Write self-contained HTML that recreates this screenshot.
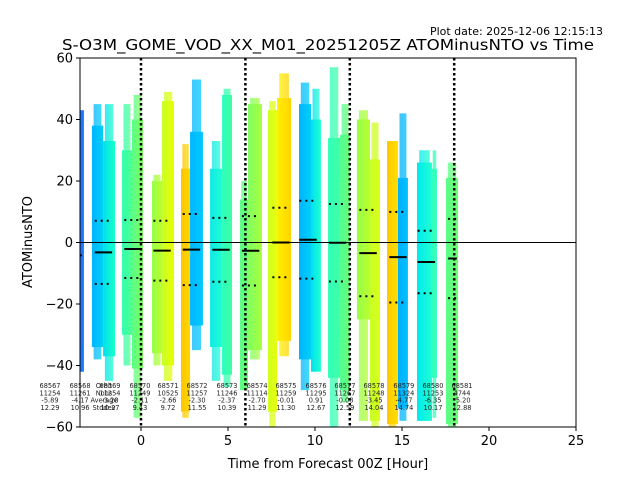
<!DOCTYPE html>
<html><head><meta charset="utf-8"><style>
body{margin:0;background:#fff;}
svg{display:block;font-family:"DejaVu Sans","Liberation Sans",sans-serif;}
</style></head><body>
<svg id="c" width="640" height="480" viewBox="0 0 640 480">
<text x="603" y="35" font-size="11" text-anchor="end">Plot date: 2025-12-06 12:15:13</text>
<text x="328" y="50" font-size="15.5" text-anchor="middle" textLength="532" lengthAdjust="spacingAndGlyphs">S-O3M_GOME_VOD_XX_M01_20251205Z ATOMinusNTO vs Time</text>
<defs><clipPath id="clip"><rect x="80" y="58" width="496" height="369"/></clipPath></defs>
<g id="plot" clip-path="url(#clip)"></g>
<g id="ann"></g>
<rect x="80" y="58" width="496" height="369" fill="none" stroke="#000" stroke-width="1"/>
<g id="axes"></g>
<text x="328" y="468" font-size="13" text-anchor="middle">Time from Forecast 00Z [Hour]</text>
<text x="32" y="242" font-size="13" text-anchor="middle" transform="rotate(-90 32 242)">ATOMinusNTO</text>
</svg>
<script>
const strips=[[-3.51,-3.28,43,-42,'#1a78ff','#1a78ff'],[-2.82,-2.18,38,-34,'#00b4ff','#00d0f8'],[-2.18,-1.49,33,-37,'#00e0ee','#18ffc8'],[-1.09,-0.52,30,-30,'#30ffb0','#50ff90'],[-0.52,0.11,40,-41,'#58ff88','#80ff60'],[0.63,1.21,20,-36,'#98ff48','#b8ff30'],[1.21,1.90,46,-40,'#c8ff28','#e8ff00'],[2.30,2.82,24,-55,'#ffc400','#ffd800'],[2.82,3.56,36,-27,'#00b8ff','#00c8ff'],[3.97,4.66,24,-34,'#10e8e8','#20ffd0'],[4.66,5.23,48,-43,'#28ffc0','#40ffa0'],[5.69,6.15,14,-48,'#58ff88','#70ff70'],[6.15,6.95,45,-35,'#80ff60','#a8ff40'],[7.30,7.82,43,-55,'#d0ff20','#e8ff10'],[7.82,8.62,47,-32,'#fff000','#ffd400'],[9.08,9.77,45,-38,'#00b4ff','#00d0f8'],[9.77,10.34,40,-42,'#00e0f0','#20ffd0'],[10.75,11.44,34,-44,'#30ffb8','#40ffa8'],[11.44,12.01,35,-48,'#50ff90','#68ff78'],[12.41,13.16,40,-25,'#98ff48','#b8ff30'],[13.16,13.74,27,-58,'#c8ff28','#d8ff18'],[14.14,14.77,33,-59,'#ffc800','#ffe000'],[14.77,15.34,21,-54,'#00b0ff','#00c0ff'],[15.86,16.72,26,-58,'#00e8f0','#20ffd0'],[16.72,17.01,24,-44,'#30ffc0','#38ffb8'],[17.53,18.22,21,-59,'#58ff88','#70ff70']];
const tailTop=[43,45,45,45,48,22,49,32,53,33,50,20,47,46,55,52,50,57,45,43,39,33,42,30,30,26];
const tailBottom=[-42,-38,-45,-40,-57,-40,-45,-57,-35,-45,-47,-48,-38,-60,-37,-48,-42,-60,-52,-58,-60,-60,-58,-58,-57,-60];
const meanHours=[-3.9,-2.16,-0.46,1.21,2.9,4.6,6.3,8.05,9.6,11.3,13.05,14.77,16.4,17.9];
const meanHalfWidth=[0.5,0.5,0.5,0.5,0.5,0.5,0.5,0.5,0.5,0.5,0.5,0.5,0.5,0.25];
const orbits=['68568','68569','68570','68571','68572','68573','68574','68575','68576','68577','68578','68579','68580','68581'];
const nobs=['11261','11254','11249','10525','11257','11246','11114','11259','11295','11267','11248','11324','11253','4744'];
const means=[-4.17,-3.20,-2.11,-2.66,-2.30,-2.37,-2.70,-0.01,0.91,-0.08,-3.45,-4.77,-6.35,-5.20];
const stds=[10.96,10.27,9.43,9.72,11.55,10.39,11.29,11.30,12.67,12.59,14.04,14.74,10.17,12.88];
const labelOrbits=['68567','68568','68569','68570','68571','68572','68573','68574','68575','68576','68577','68578','68579','68580','68581'];
const labelNobs=['11254','11261','11254','11249','10525','11257','11246','11114','11259','11295','11267','11248','11324','11253','4744'];
const labelMeans=['-5.89','-4.17','-3.20','-2.11','-2.66','-2.30','-2.37','-2.70','-0.01','0.91','-0.08','-3.45','-4.77','-6.35','-5.20'];
const labelStds=['12.29','10.96','10.27','9.43','9.72','11.55','10.39','11.29','11.30','12.67','12.59','14.04','14.74','10.17','12.88'];
const labelHours=[-5.23,-3.5,-1.78,-0.06,1.55,3.22,4.94,6.67,8.33,10.06,11.72,13.39,15.11,16.78,18.45];
const xTicks=[0,5,10,15,20,25];
const yTicks=[-60,-40,-20,0,20,40,60];
const vLines=[0,6,12,18];
const X=h=>141+h*17.4, Y=v=>242.5-v*3.075;
const NS='http://www.w3.org/2000/svg';
function mk(t,a,p){const e=document.createElementNS(NS,t);for(const k in a)e.setAttribute(k,a[k]);p.appendChild(e);return e;}
const svg=document.getElementById('c'),plot=document.getElementById('plot'),ann=document.getElementById('ann'),axes=document.getElementById('axes');
const defs=svg.querySelector('defs');
strips.forEach((s,i)=>{
 const g=mk('linearGradient',{id:'g'+i,x1:0,x2:1,y1:0,y2:0},defs);
 mk('stop',{offset:0,'stop-color':s[4]},g);mk('stop',{offset:1,'stop-color':s[5]},g);
 const x0=X(s[0]),w=X(s[1])-X(s[0]);
 const tt=mk('rect',{x:x0+w*0.15,y:Y(tailTop[i]),width:w*0.7,height:Y(tailBottom[i])-Y(tailTop[i]),fill:'url(#g'+i+')',opacity:0.75},plot);
 
 
 const r=mk('rect',{x:x0,y:Y(s[2]),width:w,height:Y(s[3])-Y(s[2]),fill:'url(#g'+i+')'},plot);
 
 
});
vLines.forEach(h=>{const l=mk('line',{x1:X(h),x2:X(h),y1:58,y2:427,stroke:'#000','stroke-width':2.5,'stroke-dasharray':'2.5,2.5'},plot);
 
 });
const z=mk('line',{x1:80,x2:576,y1:Y(0),y2:Y(0),stroke:'#000','stroke-width':1},plot);


meanHours.forEach((h,i)=>{
 const w=meanHalfWidth[i];
 const m=mk('line',{x1:X(h-w),x2:X(h+w),y1:Y(means[i]),y2:Y(means[i]),stroke:'#000','stroke-width':2},plot);
 
 
 [1,-1].forEach(sg=>{const d=mk('line',{x1:X(h-w),x2:X(h+w),y1:Y(means[i]+sg*stds[i]),y2:Y(means[i]+sg*stds[i]),stroke:'#000','stroke-width':2,'stroke-dasharray':'2,4'},plot);
 
 });
});
labelHours.forEach((h,i)=>{
 const t=mk('text',{x:X(h),y:388,'font-size':6.6,'text-anchor':'middle',fill:'#222'},ann);
 
 
 [labelOrbits[i],labelNobs[i],labelMeans[i],labelStds[i]].forEach((s,j)=>{const sp=mk('tspan',{x:X(h),dy:j?7.3:0},t);sp.textContent=s;});
});
{const t=mk('text',{x:104,y:388,'font-size':6.6,'text-anchor':'middle',fill:'#222'},ann);
 
 
 ['Orbit','Nobs','Average','Stddev'].forEach((s,j)=>{const sp=mk('tspan',{x:104,dy:j?7.3:0},t);sp.textContent=s;});}
xTicks.forEach(v=>{mk('line',{x1:X(v),x2:X(v),y1:427,y2:431,stroke:'#000'},axes);
 const t=mk('text',{x:X(v),y:445,'font-size':13,'text-anchor':'middle'},axes);t.textContent=v;
 
 });
yTicks.forEach(v=>{mk('line',{x1:76,x2:80,y1:Y(v),y2:Y(v),stroke:'#000'},axes);
 const t=mk('text',{x:73,y:Y(v)+4.5,'font-size':13,'text-anchor':'end'},axes);t.textContent=String(v).replace('-','\u2212');
 
 });
</script>
</body></html>
